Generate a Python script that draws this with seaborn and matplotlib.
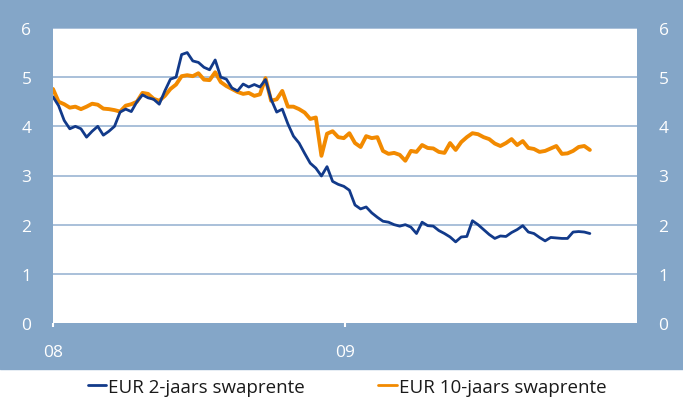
import matplotlib
matplotlib.use("Agg")
import matplotlib.pyplot as plt
from matplotlib.patches import Rectangle
import pandas as pd
import seaborn as sns

# weekly observations, starting at the first week of 2008
start_date = "2008-01-01"

eur_2y = [
    4.60, 4.42, 4.12, 3.95, 4.00, 3.95, 3.78, 3.90, 4.00, 3.82,
    3.90, 4.00, 4.29, 4.35, 4.30, 4.50, 4.64, 4.58, 4.55, 4.45,
    4.72, 4.96, 5.00, 5.46, 5.50, 5.33, 5.30, 5.20, 5.15, 5.35,
    5.00, 4.96, 4.78, 4.72, 4.86, 4.80, 4.85, 4.80, 4.95, 4.55,
    4.29, 4.35, 4.05, 3.80, 3.66, 3.45, 3.25, 3.15, 2.99, 3.18,
    2.88, 2.82, 2.78, 2.70, 2.40, 2.32, 2.36, 2.24, 2.15, 2.07,
    2.05, 2.00, 1.97, 2.00, 1.95, 1.82, 2.05, 1.98, 1.97, 1.88,
    1.82, 1.75, 1.65, 1.75, 1.76, 2.08, 2.00, 1.90, 1.80, 1.72,
    1.77, 1.76, 1.84, 1.90, 1.98, 1.85, 1.82, 1.74, 1.67, 1.74,
    1.73, 1.72, 1.72, 1.85, 1.86, 1.85, 1.82,
]

eur_10y = [
    4.76, 4.50, 4.45, 4.38, 4.40, 4.35, 4.40, 4.46, 4.44, 4.36,
    4.35, 4.33, 4.30, 4.42, 4.45, 4.50, 4.68, 4.66, 4.56, 4.52,
    4.62, 4.76, 4.85, 5.02, 5.04, 5.02, 5.08, 4.95, 4.94, 5.10,
    4.90, 4.82, 4.76, 4.70, 4.66, 4.68, 4.62, 4.65, 4.98, 4.52,
    4.55, 4.72, 4.40, 4.40, 4.35, 4.28, 4.15, 4.18, 3.40, 3.85,
    3.90, 3.78, 3.76, 3.86, 3.66, 3.58, 3.80, 3.76, 3.78, 3.50,
    3.44, 3.46, 3.42, 3.30, 3.50, 3.48, 3.62, 3.56, 3.55, 3.48,
    3.46, 3.66, 3.52, 3.68, 3.78, 3.86, 3.84, 3.78, 3.74, 3.65,
    3.60, 3.66, 3.74, 3.62, 3.70, 3.56, 3.54, 3.48, 3.50, 3.55,
    3.60, 3.44, 3.45, 3.50, 3.58, 3.60, 3.52,
]

series_names = ["EUR 2-jaars swaprente", "EUR 10-jaars swaprente"]
series_colors = ["#123a8a", "#f28a00"]
y_ticks = [0, 1, 2, 3, 4, 5, 6]
x_ticks = ["2008-01-01", "2009-01-01"]
x_labels = ["08", "09"]

dates = pd.date_range(start_date, periods=len(eur_2y), freq="7D")
df = pd.concat(
    [
        pd.DataFrame({"date": dates, "value": eur_2y, "series": series_names[0]}),
        pd.DataFrame({"date": dates, "value": eur_10y, "series": series_names[1]}),
    ],
    ignore_index=True,
)

sns.set_style("white")
plt.rcParams["font.family"] = ["Open Sans", "DejaVu Sans"]

bg = "#84a6c8"
grid = "#a9c0d9"

fig = plt.figure(figsize=(6.83, 4.06), dpi=100)
fig.patches.append(Rectangle((0, 1 - 370 / 406), 1, 370 / 406, transform=fig.transFigure, color=bg, zorder=-1))
ax = fig.add_axes([53 / 683, 1 - 324 / 406, (637 - 53) / 683, (324 - 29) / 406])
ax.set_facecolor("white")

sns.lineplot(
    data=df, x="date", y="value", hue="series", palette=series_colors,
    ax=ax, legend=False, linewidth=2.0,
)
ax.lines[1].set_linewidth(2.8)
ax.lines[0].set_zorder(3)

ax.set_ylim(0, 6)
ax.set_xlim(pd.Timestamp("2008-01-01"), pd.Timestamp("2010-01-01"))
ax.set_yticks(y_ticks)
ax.set_xticks([pd.Timestamp(t) for t in x_ticks])
ax.set_xticklabels(x_labels)
ax.set_xlabel("")
ax.set_ylabel("")
for y in y_ticks[1:]:
    ax.axhline(y, color=grid, linewidth=1.4, zorder=0)
for spine in ax.spines.values():
    spine.set_visible(False)

ax.tick_params(axis="y", left=False, right=False, labelleft=True, labelright=True,
               labelcolor="white", labelsize=12.5, pad=12)
ax.tick_params(axis="x", bottom=True, direction="out", length=3, width=1.5,
               color="white", labelcolor="white", labelsize=12.5, pad=12)

handles = [plt.Line2D([], [], color=c, linewidth=2) for c in series_colors]
fig.legend(handles, series_names, loc="center", bbox_to_anchor=(0.508, 1 - 388 / 406),
           ncol=2, frameon=False, fontsize=13.5, handlelength=1.0, handletextpad=0.1,
           columnspacing=3.9, labelcolor="#1a1a1a")

fig.savefig("out.png", dpi=100)
